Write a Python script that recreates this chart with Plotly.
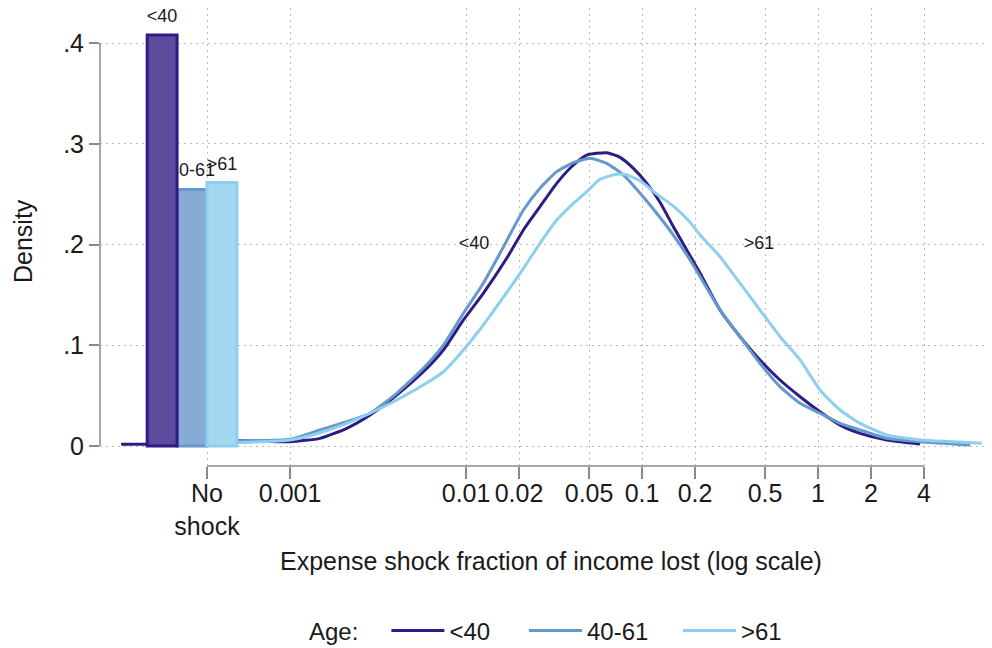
import numpy as np
import plotly.graph_objects as go

# ---------------- data ----------------
age_groups = ['<40', '40-61', '>61']
no_shock_density = [0.408, 0.2546, 0.2615]          # bar heights at "No shock"

# x axis ticks (expense shock fraction of income lost)
tick_values = [0.001, 0.01, 0.02, 0.05, 0.1, 0.2, 0.5, 1, 2, 4]
tick_labels = ['0.001', '0.01', '0.02', '0.05', '0.1', '0.2', '0.5', '1', '2', '4']
no_shock_label = 'No<br>shock'
no_shock_log_pos = -3.472                            # position of "No shock" on log10 axis

y_tick_values = [0, 0.1, 0.2, 0.3, 0.4]
y_tick_labels = ['0', '.1', '.2', '.3', '.4']

# density curves, x as log10(fraction of income lost)
log_frac_lt40 = [-3.96, -3.81, -3.60, -3.295, -3.00, -2.83, -2.678, -2.545, -2.394, -2.243,
                 -2.129, -2.015, -1.902, -1.769, -1.674, -1.58,
                 -1.485, -1.39, -1.314, -1.201, -1.125, -1.049, -0.973, -0.898, -0.822,
                 -0.746, -0.67, -0.557, -0.443, -0.33, -0.216, -0.102, 0.011, 0.125,
                 0.239, 0.39, 0.58]
dens_lt40 = [0.0017, 0.0017, 0.003, 0.0053, 0.0043, 0.0076, 0.0176, 0.0308, 0.0506, 0.0737,
             0.0953, 0.1251, 0.1516, 0.1863, 0.2144, 0.2375,
             0.2607, 0.2789, 0.2888, 0.2911, 0.2865, 0.2756, 0.2607, 0.2420, 0.2177,
             0.1945, 0.1714, 0.1350, 0.1085, 0.0854, 0.0655, 0.0489, 0.0340, 0.0208,
             0.0126, 0.0060, 0.0020]

log_frac_4061 = [-3.35, -3.00, -2.83, -2.678, -2.545, -2.394, -2.243, -2.129, -2.015,
                 -1.902, -1.807, -1.674, -1.58, -1.485, -1.39,
                 -1.295, -1.201, -1.106, -1.011, -0.917, -0.822, -0.727, -0.67, -0.557,
                 -0.443, -0.33, -0.216, -0.102, 0.011, 0.125, 0.239, 0.39, 0.58, 0.864]
dens_4061 = [0.005, 0.0067, 0.0159, 0.0241, 0.0325, 0.0523, 0.0771, 0.1002, 0.1317,
             0.1615, 0.1913, 0.2342, 0.2558, 0.2723, 0.2812,
             0.2856, 0.2806, 0.2690, 0.2508, 0.2310, 0.2094, 0.1846, 0.1680, 0.1350,
             0.1085, 0.0821, 0.0589, 0.0424, 0.0325, 0.0225, 0.0159, 0.0076, 0.0043, 0.0010]

log_frac_gt61 = [-3.35, -3.00, -2.83, -2.678, -2.545, -2.394, -2.243, -2.129, -2.015, -1.902,
                 -1.807, -1.693, -1.58, -1.485, -1.39, -1.314, -1.239, -1.144,
                 -1.087, -1.011, -0.917, -0.822, -0.727, -0.67, -0.557, -0.443,
                 -0.33, -0.216, -0.102, 0.011, 0.125, 0.239, 0.39, 0.58, 0.767, 0.93]
dens_gt61 = [0.003, 0.0060, 0.0132, 0.0225, 0.0325, 0.0457, 0.0605, 0.0737, 0.0953, 0.1201,
             0.1430, 0.1714, 0.2012, 0.2243, 0.2409, 0.2524, 0.2647, 0.2697,
             0.2690, 0.2632, 0.2500, 0.2380, 0.2220, 0.2094, 0.1879, 0.1615,
             0.1350, 0.1085, 0.0854, 0.0556, 0.0357, 0.0225, 0.0109, 0.0060, 0.0043, 0.0027]

# in-plot curve labels
curve_label_text = ['<40', '>61']
curve_label_log_x = [-1.955, -0.335]
curve_label_y = [0.2, 0.2]

# ---------------- style ----------------
line_colors = ['#2e1c85', '#6598cc', '#8dcfef']
bar_fill = ['#5d4c9e', '#88abd6', '#a3d6f1']
bar_edge = ['#2e1c85', '#6598cc', '#8dcfef']
FONT = 'Liberation Sans, Arial, sans-serif'
TXT = '#1a1a1a'
GRID = '#bdbdbd'
AXC = '#8a8a8a'

bar_w = 0.17
bar_offsets = [-2 * bar_w, -1 * bar_w, 0.0]
legend_names = ['legend', 'legend2', 'legend3']

fig = go.Figure()

curves = [(log_frac_lt40, dens_lt40), (log_frac_4061, dens_4061), (log_frac_gt61, dens_gt61)]
for i, (lx, d) in enumerate(curves):
    fig.add_trace(go.Scatter(
        x=lx, y=d, mode='lines', name=age_groups[i], legend=legend_names[i],
        line=dict(color=line_colors[i], width=3, shape='spline', smoothing=0.5),
        zorder=0, hoverinfo='skip'))

# bars: 40-61 and >61 first, <40 on top (covers part of the 40-61 label)
for i in [1, 2, 0]:
    fig.add_trace(go.Bar(
        x=[no_shock_log_pos], y=[no_shock_density[i]], width=[bar_w], offset=bar_offsets[i],
        marker=dict(color=bar_fill[i], line=dict(color=bar_edge[i], width=3)),
        showlegend=False, zorder=2 if i == 0 else 1, hoverinfo='skip'))

# bar labels (drawn below the <40 bar, which hides the start of "40-61")
bar_centers = [no_shock_log_pos + o + bar_w / 2 for o in bar_offsets]
fig.add_trace(go.Scatter(
    x=bar_centers, y=no_shock_density, mode='markers+text', text=age_groups,
    textposition='top center', marker=dict(size=12, opacity=0),
    textfont=dict(size=18, color=TXT, family=FONT), cliponaxis=False,
    showlegend=False, hoverinfo='skip', zorder=1))

# curve labels
fig.add_trace(go.Scatter(
    x=curve_label_log_x, y=curve_label_y, mode='text', text=curve_label_text,
    textposition='middle center', textfont=dict(size=18, color=TXT, family=FONT),
    showlegend=False, hoverinfo='skip', zorder=3))

x_tickvals = [no_shock_log_pos] + list(np.log10(tick_values))
x_ticktext = [no_shock_label] + tick_labels

legend_common = dict(orientation='h', xref='container', yref='container', y=1 - 631 / 648,
                     yanchor='middle', xanchor='left', font=dict(size=24, color=TXT),
                     bgcolor='rgba(0,0,0,0)', itemwidth=53)

PLOT_TOP, PLOT_BOT = 8, 466
H = PLOT_BOT - PLOT_TOP
GRID_TOP = 15   # vertical grid lines start a little below the top of the plot area

fig.update_layout(
    width=992, height=648,
    margin=dict(l=100, r=5, t=PLOT_TOP, b=648 - PLOT_BOT, autoexpand=False),
    paper_bgcolor='white', plot_bgcolor='white',
    font=dict(family=FONT, size=25, color=TXT),
    barmode='overlay',
    showlegend=True,
    legend=dict(x=307 / 992, title=dict(text='Age:   ', side='left', font=dict(size=24)),
                **legend_common),
    legend2=dict(x=524 / 992, **legend_common),
    legend3=dict(x=678 / 992, **legend_common),
    xaxis=dict(range=[-4.08, 0.96], tickmode='array', tickvals=x_tickvals, ticktext=x_ticktext,
               showgrid=True, gridcolor=GRID, griddash='2px,4px', gridwidth=1,
               zeroline=False, showline=False, ticks='outside', ticklen=12,
               tickcolor=AXC, tickwidth=1.5, tickfont=dict(size=25), ticklabelstandoff=-7),
    yaxis=dict(range=[-0.01985, 0.43474], tickmode='array', tickvals=y_tick_values,
               ticktext=y_tick_labels,
               showgrid=True, gridcolor=GRID, griddash='2px,4px', gridwidth=1,
               zeroline=False, showline=False, ticks='outside', ticklen=10,
               tickcolor=AXC, tickwidth=1.5, tickfont=dict(size=25)),
    shapes=[
        dict(type='rect', xref='paper', x0=0, x1=1, yref='paper',
             y0=(PLOT_BOT - GRID_TOP) / H, y1=1, fillcolor='white', line=dict(width=0),
             layer='below'),
        dict(type='line', xref='paper', x0=0, x1=0, yref='y',
             y0=y_tick_values[0], y1=y_tick_values[-1], line=dict(color=AXC, width=1.5)),
        dict(type='line', xref='x', x0=no_shock_log_pos, x1=float(np.log10(tick_values[-1])),
             yref='paper', y0=0, y1=0, line=dict(color=AXC, width=1.5)),
    ],
    annotations=[
        dict(text='Expense shock fraction of income lost (log scale)', xref='paper', yref='paper',
             x=0.508, y=-(561 - PLOT_BOT) / H, xanchor='center', yanchor='middle',
             showarrow=False, font=dict(size=25, color=TXT)),
        dict(text='Density', xref='paper', yref='paper', x=-0.0868, y=(PLOT_BOT - 241) / H,
             textangle=-90, xanchor='center', yanchor='middle', showarrow=False,
             font=dict(size=25, color=TXT)),
    ],
)

fig.write_html('out.html')
